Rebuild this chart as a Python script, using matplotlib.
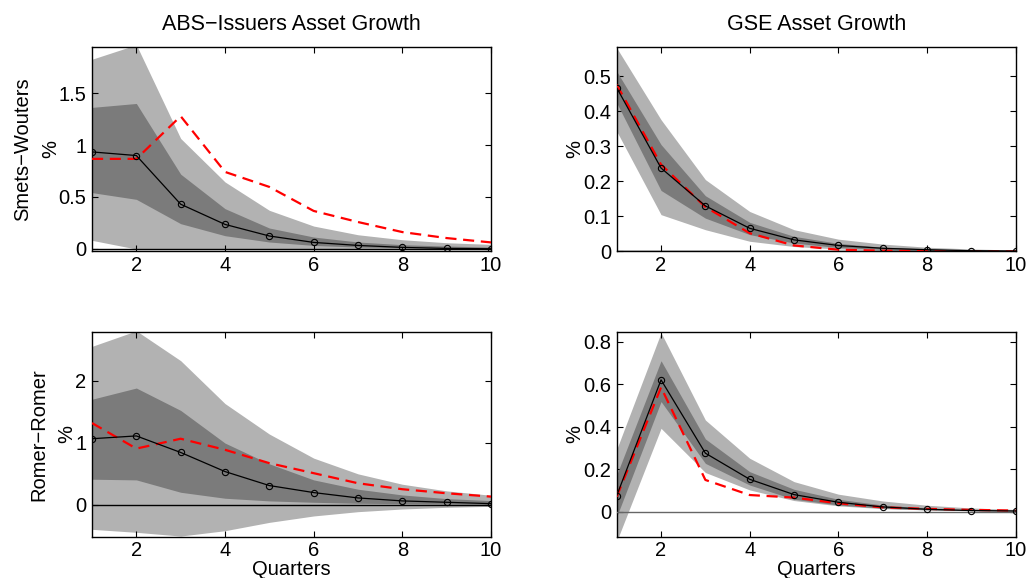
import numpy as np
import matplotlib
matplotlib.use("Agg")
import matplotlib.pyplot as plt

plt.rcParams['font.family'] = ['Liberation Sans', 'DejaVu Sans']
FS = 14.5
FS_TITLE = 15.5
plt.rcParams['font.size'] = FS

quarters = np.arange(1, 11)

# Smets-Wouters, ABS issuers
sw_abs_median = [0.935, 0.90, 0.43, 0.235, 0.123, 0.061, 0.032, 0.013, 0.003, 0.0]
sw_abs_alt = [0.868, 0.868, 1.28, 0.742, 0.597, 0.365, 0.258, 0.161, 0.103, 0.061]
sw_abs_inner_hi = [1.365, 1.403, 0.72, 0.387, 0.20, 0.113, 0.065, 0.039, 0.026, 0.016]
sw_abs_inner_lo = [0.542, 0.477, 0.242, 0.126, 0.065, 0.032, 0.016, 0.010, 0.003, 0.0]
sw_abs_outer_hi = [1.83, 1.97, 1.065, 0.645, 0.371, 0.219, 0.135, 0.087, 0.058, 0.042]
sw_abs_outer_lo = [0.081, -0.003, -0.003, -0.002, -0.002, -0.001, -0.001, 0.0, 0.0, 0.0]

# Smets-Wouters, GSE
sw_gse_median = [0.467, 0.238, 0.130, 0.066, 0.033, 0.017, 0.009, 0.005, 0.002, 0.001]
sw_gse_alt = [0.476, 0.248, 0.127, 0.052, 0.017, 0.005, 0.002, 0.001, 0.0, 0.0]
sw_gse_inner_hi = [0.514, 0.305, 0.159, 0.083, 0.043, 0.023, 0.012, 0.007, 0.004, 0.002]
sw_gse_inner_lo = [0.424, 0.174, 0.095, 0.048, 0.024, 0.011, 0.006, 0.003, 0.001, 0.0]
sw_gse_outer_hi = [0.581, 0.376, 0.205, 0.114, 0.062, 0.035, 0.021, 0.012, 0.007, 0.004]
sw_gse_outer_lo = [0.343, 0.105, 0.062, 0.029, 0.014, 0.007, 0.003, 0.001, 0.0, 0.0]

# Romer-Romer, ABS issuers
rr_abs_median = [1.065, 1.11, 0.844, 0.537, 0.312, 0.199, 0.113, 0.065, 0.043, 0.021]
rr_abs_alt = [1.317, 0.906, 1.065, 0.887, 0.672, 0.511, 0.349, 0.253, 0.188, 0.134]
rr_abs_inner_hi = [1.70, 1.88, 1.52, 0.995, 0.661, 0.403, 0.253, 0.161, 0.102, 0.07]
rr_abs_inner_lo = [0.414, 0.403, 0.204, 0.108, 0.065, 0.043, 0.027, 0.021, 0.016, 0.011]
rr_abs_outer_hi = [2.55, 2.80, 2.32, 1.63, 1.14, 0.753, 0.50, 0.333, 0.226, 0.156]
rr_abs_outer_lo = [-0.392, -0.44, -0.50, -0.414, -0.28, -0.177, -0.108, -0.065, -0.038, -0.022]

# Romer-Romer, GSE
rr_gse_median = [0.075, 0.62, 0.275, 0.152, 0.080, 0.044, 0.022, 0.011, 0.005, 0.003]
rr_gse_alt = [0.070, 0.585, 0.149, 0.078, 0.066, 0.039, 0.020, 0.013, 0.008, 0.005]
rr_gse_inner_hi = [0.173, 0.71, 0.342, 0.188, 0.105, 0.058, 0.031, 0.016, 0.008, 0.005]
rr_gse_inner_lo = [-0.024, 0.518, 0.227, 0.125, 0.058, 0.031, 0.016, 0.008, 0.004, 0.002]
rr_gse_outer_hi = [0.293, 0.842, 0.431, 0.251, 0.141, 0.082, 0.050, 0.030, 0.017, 0.010]
rr_gse_outer_lo = [-0.14, 0.392, 0.184, 0.102, 0.052, 0.027, 0.014, 0.008, 0.005, 0.003]

LIGHT = '#b2b2b2'
DARK = '#7b7b7b'

fig = plt.figure(figsize=(10.27, 5.78), dpi=100)
W = 0.3885
H = 0.354
ax_sw_abs = fig.add_axes([0.0896, 0.565, W, H])
ax_sw_gse = fig.add_axes([0.6005, 0.565, W, H])
ax_rr_abs = fig.add_axes([0.0896, 0.0715, W, H])
ax_rr_gse = fig.add_axes([0.6005, 0.0715, W, H])


def panel(ax, med, alt, ihi, ilo, ohi, olo, ylim, yticks, yticklabels,
          zero_color='k'):
    ax.fill_between(quarters, olo, ohi, color=LIGHT, lw=0, zorder=1)
    ax.fill_between(quarters, ilo, ihi, color=DARK, lw=0, zorder=2)
    ax.axhline(0, color=zero_color, lw=1.0, zorder=3)
    ax.plot(quarters, alt, color='red', ls=(0, (5, 3)), lw=1.6, zorder=4)
    ax.plot(quarters, med, color='k', lw=0.9, marker='o', ms=4.5,
            mfc='none', mec='k', mew=0.8, zorder=5)
    ax.set_xlim(1, 10)
    ax.set_ylim(*ylim)
    ax.set_xticks([2, 4, 6, 8, 10])
    ax.set_yticks(yticks)
    ax.set_yticklabels(yticklabels)
    ax.tick_params(direction='in', length=4, width=0.8, top=True, right=True,
                   labelsize=FS)
    ax.tick_params(axis='y', pad=4)
    ax.tick_params(axis='x', pad=3)
    for s in ax.spines.values():
        s.set_linewidth(1.0)


panel(ax_sw_abs, sw_abs_median, sw_abs_alt, sw_abs_inner_hi, sw_abs_inner_lo,
      sw_abs_outer_hi, sw_abs_outer_lo, (-0.026, 1.95),
      [0, 0.5, 1, 1.5], ['0', '0.5', '1', '1.5'])
panel(ax_sw_gse, sw_gse_median, sw_gse_alt, sw_gse_inner_hi, sw_gse_inner_lo,
      sw_gse_outer_hi, sw_gse_outer_lo, (0, 0.584),
      [0, 0.1, 0.2, 0.3, 0.4, 0.5], ['0', '0.1', '0.2', '0.3', '0.4', '0.5'])
panel(ax_rr_abs, rr_abs_median, rr_abs_alt, rr_abs_inner_hi, rr_abs_inner_lo,
      rr_abs_outer_hi, rr_abs_outer_lo, (-0.51, 2.78),
      [0, 1, 2], ['0', '1', '2'])
panel(ax_rr_gse, rr_gse_median, rr_gse_alt, rr_gse_inner_hi, rr_gse_inner_lo,
      rr_gse_outer_hi, rr_gse_outer_lo, (-0.118, 0.845),
      [0, 0.2, 0.4, 0.6, 0.8], ['0', '0.2', '0.4', '0.6', '0.8'],
      zero_color='#666666')

ax_sw_abs.set_title('ABS\u2212Issuers Asset Growth', fontsize=FS_TITLE, pad=12)
ax_sw_gse.set_title('GSE Asset Growth', fontsize=FS_TITLE, pad=12)

ax_sw_abs.set_ylabel('Smets\u2212Wouters\n%', fontsize=FS, labelpad=-1,
                     linespacing=1.6)
ax_rr_abs.set_ylabel('Romer\u2212Romer\n%', fontsize=FS, labelpad=-1,
                     linespacing=1.6)
ax_sw_gse.set_ylabel('%', fontsize=FS, labelpad=-1)
ax_rr_gse.set_ylabel('%', fontsize=FS, labelpad=-1)

ax_rr_abs.set_xlabel('Quarters', fontsize=FS, labelpad=0)
ax_rr_gse.set_xlabel('Quarters', fontsize=FS, labelpad=0)

fig.savefig('out.png', dpi=100)
